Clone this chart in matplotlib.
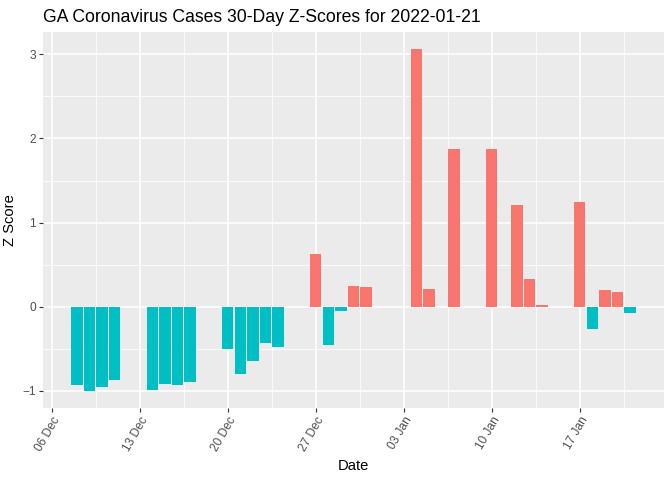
import numpy as np
import matplotlib
matplotlib.use("Agg")
import matplotlib.pyplot as plt
import matplotlib.dates as mdates

plt.rcParams['font.family'] = ['Liberation Sans', 'DejaVu Sans']

# z-scores
dates = ["2021-12-08", "2021-12-09", "2021-12-10", "2021-12-11",
         "2021-12-14", "2021-12-15", "2021-12-16", "2021-12-17",
         "2021-12-20", "2021-12-21", "2021-12-22", "2021-12-23", "2021-12-24",
         "2021-12-27", "2021-12-28", "2021-12-29", "2021-12-30", "2021-12-31",
         "2022-01-04", "2022-01-05", "2022-01-07", "2022-01-10",
         "2022-01-12", "2022-01-13", "2022-01-14",
         "2022-01-17", "2022-01-18", "2022-01-19", "2022-01-20", "2022-01-21"]
zscores = [-0.93, -1.00, -0.95, -0.87,
           -0.99, -0.92, -0.93, -0.89,
           -0.50, -0.80, -0.64, -0.43, -0.48,
           0.63, -0.45, -0.05, 0.25, 0.23,
           3.06, 0.21, 1.87, 1.88,
           1.21, 0.33, 0.025,
           1.25, -0.27, 0.20, 0.17, -0.08]
tick_dates = ["2021-12-06", "2021-12-13", "2021-12-20", "2021-12-27",
              "2022-01-03", "2022-01-10", "2022-01-17"]

x = mdates.date2num(np.array(dates, dtype="datetime64[D]"))
z = np.array(zscores)
colors = np.where(z > 0, "#F8766D", "#00BFC4")

fig = plt.figure(figsize=(6.72, 4.8), dpi=100)
ax = fig.add_axes([0.064, 0.15, 0.924, 0.783])
ax.set_facecolor("#EBEBEB")
ax.bar(x, z, width=0.9, color=colors, zorder=3)

ticks = mdates.date2num(np.array(tick_dates, dtype="datetime64[D]"))
ax.set_xticks(ticks)
ax.set_xticks(np.append(ticks + 3.5, ticks[0] - 3.5), minor=True)
ax.xaxis.set_major_formatter(mdates.DateFormatter("%d %b"))
ax.set_yticks([-1, 0, 1, 2, 3])
ax.set_yticks([-0.5, 0.5, 1.5, 2.5], minor=True)

# ggplot style expansion (set after ticks so they don't widen the view)
lo, hi = x.min() - 0.45, x.max() + 0.45
pad = (hi - lo) * 0.05
ax.set_xlim(lo - pad, hi + pad)
ylo, yhi = min(0, z.min()), z.max()
ypad = (yhi - ylo) * 0.05
ax.set_ylim(ylo - ypad, yhi + ypad)

ax.grid(which="major", color="white", linewidth=1.1, zorder=0)
ax.grid(which="minor", color="white", linewidth=0.55, zorder=0)
ax.set_axisbelow(True)
for s in ax.spines.values():
    s.set_visible(False)

ax.tick_params(which="major", length=3, color="#333333", labelcolor="#4D4D4D",
               labelsize=8.6, pad=2)
ax.tick_params(which="minor", length=0)
for lab in ax.get_xticklabels():
    lab.set_rotation(60)
    lab.set_ha("right")
    lab.set_rotation_mode("anchor")

ax.set_xlabel("Date", fontsize=10.6, labelpad=4)
ax.set_ylabel("Z Score", fontsize=10.6, labelpad=4)
ax.set_title("GA Coronavirus Cases 30-Day Z-Scores for 2022-01-21",
             fontsize=12.7, loc="left", pad=7)

fig.savefig("out.png", dpi=100)
